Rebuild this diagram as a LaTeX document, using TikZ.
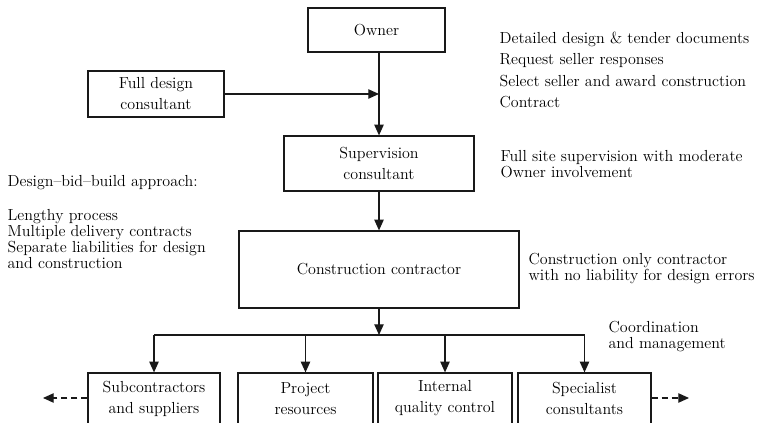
\documentclass[tikz,border=0pt]{standalone}
\usepackage{fontspec}
\usetikzlibrary{arrows.meta}
\newcommand\boxtxt{\fontsize{12}{15.75}\selectfont}
\newcommand\notetxt{\fontsize{12}{12}\selectfont}
\newcommand\listtxt{\fontsize{12}{16.2}\selectfont}
\begin{document}
\begin{tikzpicture}[x=0.75pt,y=-0.75pt,
  line width=0.9pt, draw=black!90, text=black,
  box/.style={draw, inner sep=0pt, align=center, font=\boxtxt},
  note/.style={anchor=north west, inner sep=0pt, align=left, font=\notetxt},
  arr/.style={-{Triangle[length=8pt,width=7pt]}},
  darr/.style={arr, dash pattern=on 4.5pt off 3pt}]
\path[use as bounding box] (0,0) rectangle (772,423);
\clip (0,0) rectangle (772,423);

% main chain
\node[box, minimum width=102.75pt, minimum height=33pt] (owner) at (376.5,30) {Owner};
\node[box, minimum width=102pt, minimum height=34.5pt] (fd) at (156,94) {Full design\\consultant};
\node[box, minimum width=142.5pt, minimum height=41.25pt] (sup) at (379,163.5) {Supervision\\consultant};
\node[box, minimum width=210pt, minimum height=57.75pt] (con) at (379,269.5) {Construction contractor};

% lower row (runs past the lower edge)
\node[box, minimum width=99pt, minimum height=38.25pt] (sub) at (154,398.5) {Subcontractors\\and suppliers};
\node[box, minimum width=101.25pt, minimum height=38.25pt] (proj) at (305.5,398.5) {Project\\resources};
\node[box, minimum width=100.5pt, minimum height=38.25pt] (iqc) at (445,398.5) {Internal\\quality control};
\node[box, minimum width=99.75pt, minimum height=38.25pt] (spec) at (584.5,398.5) {Specialist\\consultants};

% connectors
\draw[arr] (owner.south -| sup.north) -- (sup.north);
\draw[arr] (fd.east) -- (fd.east -| sup.north);
\draw[arr] (sup.south) -- (con.north);
\coordinate (bus) at (379,335);
\draw[arr] (con.south) -- (bus);
\draw (sub.north |- bus) -- (spec.north |- bus);
\foreach \n in {sub,proj,iqc,spec}
  \draw[arr] (\n.north |- bus) -- (\n.north);
\coordinate (lout) at (43,398);
\coordinate (rout) at (689,398);
\draw[darr] (sub.west |- lout) -- (lout);
\draw[darr] (spec.east |- rout) -- (rout);

% annotations
\node[note, font=\listtxt] (steps) at (499,31)
  {Detailed design \& tender documents\\Request seller responses\\Select seller and award construction\\Contract};
\node[note] (site) at (500,150) {Full site supervision with moderate\\Owner involvement};
\node[note] (only) at (528,253) {Construction only contractor\\with no liability for design errors};
\node[note] (dbb) at (7,175) {Design–bid–build approach:};
\node[note] (cons) at (7,209) {Lengthy process\\Multiple delivery contracts\\Separate liabilities for design\\and construction};
\node[note] (coord) at (608,321) {Coordination\\and management};
\end{tikzpicture}
\end{document}
